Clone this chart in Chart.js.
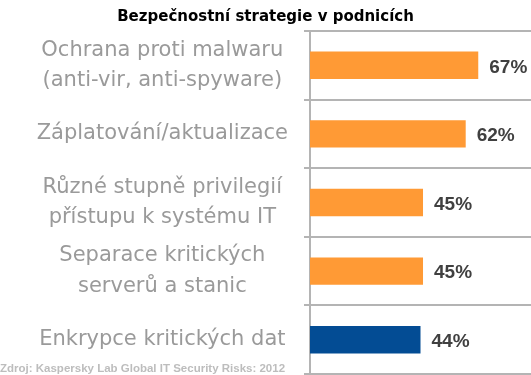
<!DOCTYPE html>
<html>
<head>
<meta charset="utf-8">
<script src="https://cdn.jsdelivr.net/npm/chart.js@4"></script>
<style>
  html, body { margin: 0; padding: 0; background: #ffffff; }
  #wrap { position: relative; width: 531px; height: 375px; overflow: hidden; }
  #source { position: absolute; left: 0; top: 362px; font: bold 11.5px "Liberation Sans", Arial, sans-serif; color: #bdbdbd; white-space: nowrap; }
</style>
</head>
<body>
<div id="wrap">
  <canvas id="c" width="531" height="375"></canvas>
  <div id="source">Zdroj: Kaspersky Lab Global IT Security Risks: 2012</div>
</div>
<script>
const chartTitle = "Bezpečnostní strategie v podnicích";
const categories = [
  ["Ochrana proti malwaru", "(anti-vir, anti-spyware)"],
  ["Záplatování/aktualizace"],
  ["Různé stupně privilegií", "přístupu k systému IT"],
  ["Separace kritických", "serverů a stanic"],
  ["Enkrypce kritických dat"]
];
const values = [67, 62, 45, 45, 44];
const valueSuffix = "%";

const ORANGE = "#FF9A35";
const BLUE = "#034C94";
const LINE = "#b4b4b4";

const valueLabels = {
  id: "valueLabels",
  afterDatasetsDraw(chart) {
    const ctx = chart.ctx;
    const meta = chart.getDatasetMeta(0);
    ctx.save();
    ctx.font = "bold 19px 'Liberation Sans', Arial, sans-serif";
    ctx.fillStyle = "#404040";
    ctx.textAlign = "left";
    ctx.textBaseline = "middle";
    meta.data.forEach((bar, i) => {
      ctx.fillText(values[i] + valueSuffix, bar.x + 11, bar.y + 2);
    });
    ctx.restore();
  }
};

new Chart(document.getElementById("c"), {
  type: "bar",
  data: {
    labels: categories,
    datasets: [{
      data: values,
      backgroundColor: (c) => c.dataIndex === values.length - 1 ? BLUE : ORANGE,
      borderWidth: 0,
      barPercentage: 0.4,
      categoryPercentage: 1.0
    }]
  },
  options: {
    indexAxis: "y",
    responsive: false,
    animation: false,
    layout: { padding: { left: 0, right: 0, top: 0, bottom: 1 } },
    plugins: {
      legend: { display: false },
      tooltip: { enabled: false },
      title: {
        display: true,
        text: chartTitle,
        color: "#000000",
        font: { family: "'DejaVu Sans', sans-serif", size: 15, weight: "bold" },
        padding: { top: 8, bottom: 5 }
      }
    },
    scales: {
      x: {
        display: false,
        min: 0,
        max: 88
      },
      y: {
        afterFit(scale) {
          scale.width = 310;
          scale.paddingTop = 0;
          scale.paddingBottom = 0;
        },
        border: { display: true, color: LINE, width: 2 },
        grid: {
          offset: true,
          drawOnChartArea: true,
          drawTicks: true,
          tickLength: 6,
          lineWidth: 2,
          color: (c) => (c.index === values.length ? "rgba(0,0,0,0)" : LINE)
        },
        ticks: {
          crossAlign: "center",
          padding: 16,
          color: "#9a9a9a",
          font: { family: "'DejaVu Sans', sans-serif", size: 21, lineHeight: 1.45 }
        }
      }
    }
  },
  plugins: [valueLabels]
});
</script>
</body>
</html>
